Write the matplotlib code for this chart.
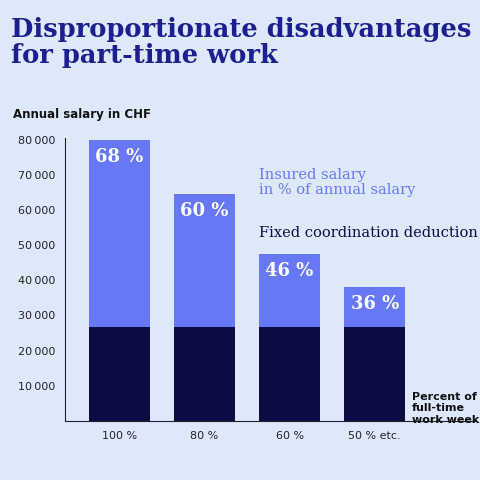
import matplotlib
matplotlib.use("Agg")
import matplotlib.pyplot as plt

categories = ["100 %", "80 %", "60 %", "50 % etc."]
totals = [80000, 64500, 47600, 38000]
deduction = [26700, 26700, 26700, 26700]
pct_labels = ["68 %", "60 %", "46 %", "36 %"]
yticks = [10000, 20000, 30000, 40000, 50000, 60000, 70000, 80000]

bg = "#dde9fb"
navy = "#0c0c44"
blue = "#6778f5"
title_c = "#1b1f8f"

fig = plt.figure(figsize=(4.8, 4.8), dpi=100, facecolor=bg)
ax = fig.add_axes([0.135, 0.123, 0.855, 0.59], facecolor=bg)
x = range(len(categories))
upper = [t - d for t, d in zip(totals, deduction)]
ax.bar(x, deduction, width=0.72, color=navy)
ax.bar(x, upper, bottom=deduction, width=0.72, color=blue)
for i, (t, p) in enumerate(zip(totals, pct_labels)):
    ax.text(i, t - 2300, p, ha="center", va="top", color="white",
            fontsize=13, fontweight="bold", family="DejaVu Serif")
ax.set_xlim(-0.64, 4.18)
ax.set_ylim(0, 80500)
ax.set_yticks(yticks)
ax.set_yticklabels([f"{v:,}".replace(",", "\u2009") for v in yticks], fontsize=8, color="#222")
ax.set_xticks(list(x))
ax.set_xticklabels(categories, fontsize=8, color="#222")
ax.tick_params(length=0, pad=7)
for s in ["top", "right"]:
    ax.spines[s].set_visible(False)
ax.spines["left"].set_color("#222")
ax.spines["bottom"].set_color("#222")
ax.text(1.64, 72000, "Insured salary\nin % of annual salary", color=blue, fontsize=10.5,
        family="DejaVu Serif", va="top", linespacing=1.1)
ax.text(1.64, 53500, "Fixed coordination deduction", color=navy, fontsize=10.5,
        family="DejaVu Serif", va="center")
fig.text(0.858, 0.183, "Percent of\nfull-time\nwork week", fontsize=8, fontweight="bold",
         va="top", color="#111", linespacing=1.15)
fig.text(0.027, 0.755, "Annual salary in CHF", fontsize=8.5, fontweight="bold", color="#111")
fig.text(0.022, 0.965, "Disproportionate disadvantages\nfor part-time work", fontsize=18.5,
         fontweight="bold", family="DejaVu Serif", color=title_c, va="top", linespacing=1.05)
fig.savefig("out.png", dpi=100, facecolor=bg)
